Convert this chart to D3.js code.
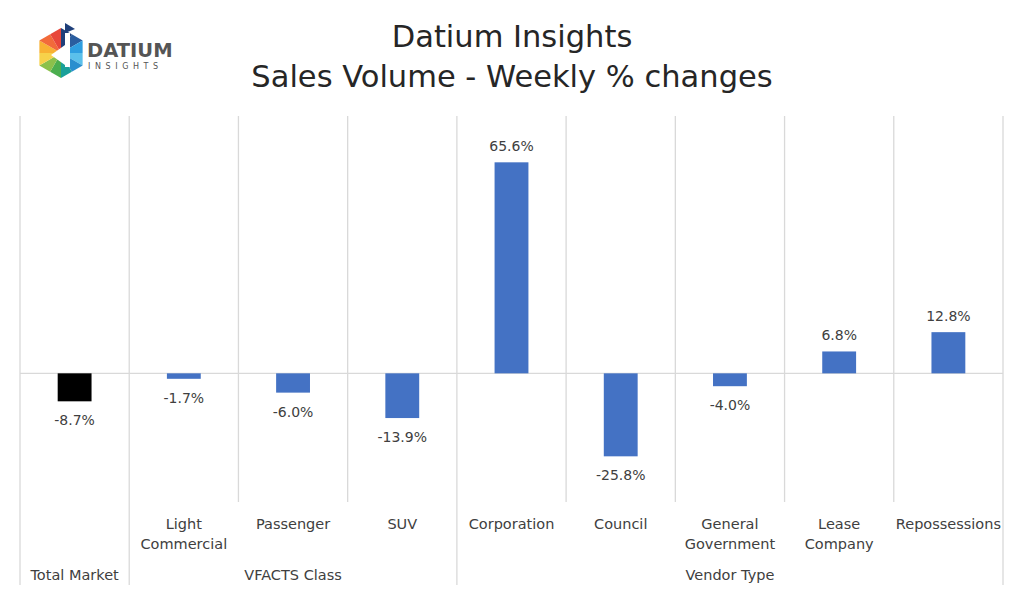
<!DOCTYPE html>
<html>
<head>
<meta charset="utf-8">
<script src="https://d3js.org/d3.v7.min.js"></script>
<style>
  body { margin: 0; background: #fff; }
  svg { display: block; font-family: "DejaVu Sans", sans-serif; }
</style>
</head>
<body>
<script>
// size of the page and the plot area
var w = 1024;
var h = 594;
var plotLeft = 20;
var plotRight = 1003;
var plotTop = 116;
var plotBottom = 502;

// chart data
var categories = ["Total Market", "Light Commercial", "Passenger", "SUV", "Corporation",
                  "Council", "General Government", "Lease Company", "Repossessions"];
var labelLines = [[], ["Light", "Commercial"], ["Passenger"], ["SUV"], ["Corporation"],
                  ["Council"], ["General", "Government"], ["Lease", "Company"], ["Repossessions"]];
var values = [-8.7, -1.7, -6.0, -13.9, 65.6, -25.8, -4.0, 6.8, 12.8];
var valueLabels = ["-8.7%", "-1.7%", "-6.0%", "-13.9%", "65.6%", "-25.8%", "-4.0%", "6.8%", "12.8%"];
var groupNames = ["Total Market", "VFACTS Class", "Vendor Type"];
var groupFirst = [0, 1, 4];
var groupLast = [0, 3, 8];
var yDomain = [-40, 80];

var svg = d3.select("body").append("svg")
  .attr("width", w)
  .attr("height", h);

// scales
var x = d3.scaleBand()
  .domain(categories)
  .range([plotLeft, plotRight]);

var y = d3.scaleLinear()
  .domain(yDomain)
  .range([plotBottom, plotTop]);

// vertical gridlines between categories
var bounds = d3.range(categories.length + 1).map(function(i) {
  return plotLeft + i * x.step();
});
svg.append("g").selectAll("line")
  .data(bounds)
  .enter().append("line")
  .attr("x1", d => d).attr("x2", d => d)
  .attr("y1", plotTop).attr("y2", plotBottom)
  .attr("stroke", "#d9d9d9")
  .attr("stroke-width", 1.3);

// group separators run down through the label rows
var groupBounds = groupFirst.map(i => bounds[i]).concat([bounds[bounds.length - 1]]);
svg.append("g").selectAll("line")
  .data(groupBounds)
  .enter().append("line")
  .attr("x1", d => d).attr("x2", d => d)
  .attr("y1", plotBottom).attr("y2", 585)
  .attr("stroke", "#d9d9d9")
  .attr("stroke-width", 1.3);

// zero line
svg.append("line")
  .attr("x1", plotLeft).attr("x2", plotRight)
  .attr("y1", y(0)).attr("y2", y(0))
  .attr("stroke", "#d9d9d9")
  .attr("stroke-width", 1.3);

// bars
var barW = x.bandwidth() * 0.31;
svg.append("g").selectAll("rect")
  .data(values)
  .enter().append("rect")
  .attr("x", (d, i) => x(categories[i]) + (x.bandwidth() - barW) / 2)
  .attr("y", d => y(Math.max(0, d)))
  .attr("width", barW)
  .attr("height", d => Math.abs(y(d) - y(0)))
  .attr("fill", (d, i) => i == 0 ? "#000000" : "#4472c4");

// value labels
svg.append("g").selectAll("text")
  .data(values)
  .enter().append("text")
  .attr("x", (d, i) => x(categories[i]) + x.bandwidth() / 2)
  .attr("y", d => d >= 0 ? y(d) - 11 : y(d) + 24)
  .attr("text-anchor", "middle")
  .style("font-size", "14px")
  .attr("fill", "#404040")
  .text((d, i) => valueLabels[i]);

// category labels
var catG = svg.append("g").selectAll("text")
  .data(labelLines)
  .enter().append("text")
  .attr("x", (d, i) => x(categories[i]) + x.bandwidth() / 2)
  .attr("y", 529)
  .attr("text-anchor", "middle")
  .style("font-size", "14.5px")
  .attr("fill", "#404040");
catG.selectAll("tspan")
  .data(d => d)
  .enter().append("tspan")
  .attr("x", function() { return d3.select(this.parentNode).attr("x"); })
  .attr("dy", (d, i) => i == 0 ? 0 : 20)
  .text(d => d);

// group labels
svg.append("g").selectAll("text")
  .data(groupNames)
  .enter().append("text")
  .attr("x", (d, i) => (bounds[groupFirst[i]] + bounds[groupLast[i] + 1]) / 2)
  .attr("y", 580)
  .attr("text-anchor", "middle")
  .style("font-size", "14.5px")
  .attr("fill", "#404040")
  .text(d => d);

// title
svg.append("text")
  .attr("x", 512).attr("y", 47)
  .attr("text-anchor", "middle")
  .style("font-size", "30.5px")
  .attr("fill", "#262626")
  .text("Datium Insights");
svg.append("text")
  .attr("x", 512).attr("y", 87)
  .attr("text-anchor", "middle")
  .style("font-size", "30.5px")
  .attr("fill", "#262626")
  .text("Sales Volume - Weekly % changes");

// logo: a hexagon of coloured triangles
var logo = svg.append("g").attr("transform", "translate(61,53)");
var r = 25;
var hexPts = d3.range(6).map(function(i) {
  var a = Math.PI / 180 * (-90 + 60 * i);
  return [r * Math.cos(a), r * Math.sin(a)];
});
var logoColors = ["#1f3f7a", "#2a5d9f", "#2f9ee0", "#5bc0eb", "#2a8fcf", "#1aa09a",
                  "#4cae4f", "#8cc04b", "#f7d14a", "#f8b133", "#f26a3a", "#e8473a"];
for (var i = 0; i < 6; i++) {
  var p1 = hexPts[i];
  var p2 = hexPts[(i + 1) % 6];
  var mid = [(p1[0] + p2[0]) / 2, (p1[1] + p2[1]) / 2];
  logo.append("path")
    .attr("d", "M0,0L" + p1 + "L" + mid + "Z")
    .attr("fill", logoColors[i * 2]);
  logo.append("path")
    .attr("d", "M0,0L" + mid + "L" + p2 + "Z")
    .attr("fill", logoColors[i * 2 + 1]);
}
// white "d" cut-out
logo.append("path")
  .attr("d", "M-10,2L4,-8L4,12Z")
  .attr("fill", "#fff");
logo.append("rect")
  .attr("x", 4).attr("y", -20).attr("width", 5).attr("height", 34)
  .attr("fill", "#fff");
logo.append("path")
  .attr("d", "M4,-30L14,-24L4,-20Z")
  .attr("fill", "#1f3f7a");

svg.append("text")
  .attr("x", 87).attr("y", 57)
  .style("font-size", "19.5px")
  .style("font-weight", "bold")
  .attr("fill", "#555")
  .text("DATIUM");
svg.append("text")
  .attr("x", 88).attr("y", 69)
  .style("font-size", "8px")
  .style("letter-spacing", "4.6px")
  .attr("fill", "#555")
  .text("INSIGHTS");
</script>
</body>
</html>
